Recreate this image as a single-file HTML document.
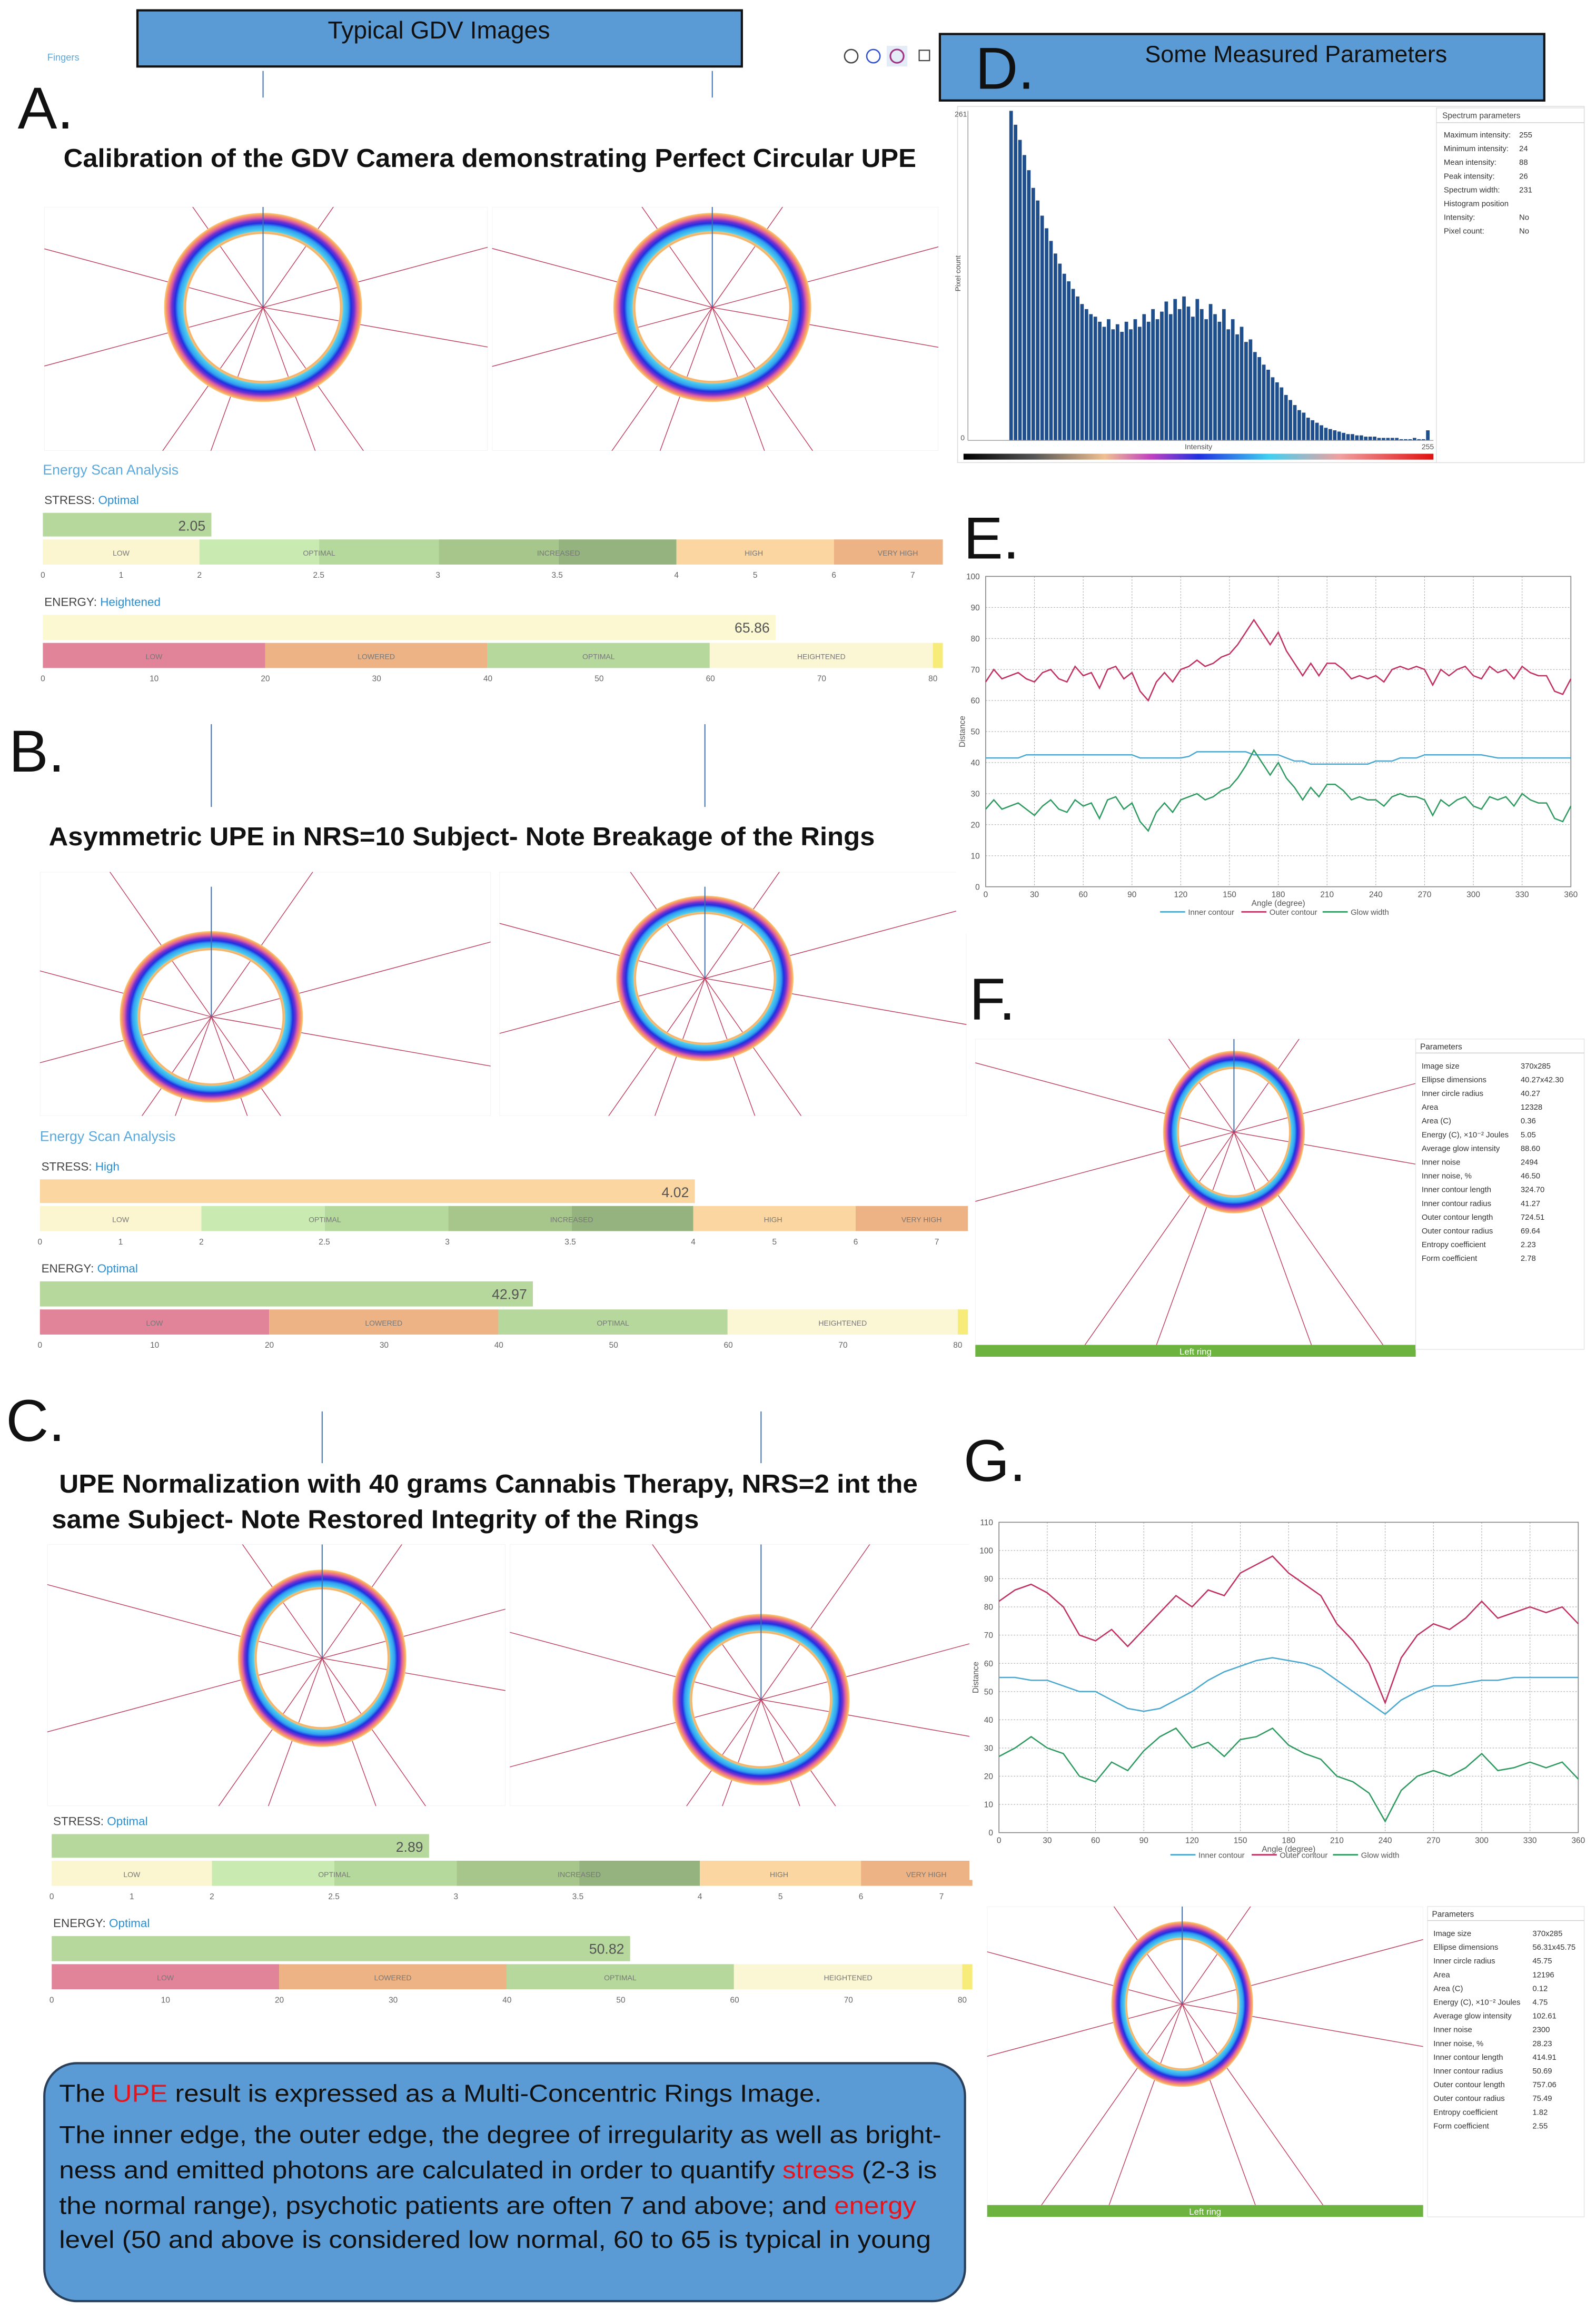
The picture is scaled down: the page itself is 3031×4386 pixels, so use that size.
<!DOCTYPE html>
<html><head><meta charset="utf-8"><style>
html,body{margin:0;padding:0;background:#fff;overflow:hidden;width:3031px;height:4386px;}
svg{display:block;font-family:"Liberation Sans",sans-serif;}
</style></head><body>
<svg id="root" xmlns="http://www.w3.org/2000/svg" width="3031" height="4386" viewBox="0 0 1080 1563" preserveAspectRatio="none">
<defs>
<radialGradient id="ringGrad" cx="0.5" cy="0.5" r="0.5">
<stop offset="0" stop-color="#fff" stop-opacity="0"/>
<stop offset="0.77" stop-color="#fff" stop-opacity="0"/>
<stop offset="0.78" stop-color="#f6b060"/>
<stop offset="0.80" stop-color="#f0c080"/>
<stop offset="0.81" stop-color="#50d0f0"/>
<stop offset="0.86" stop-color="#30a0f0"/>
<stop offset="0.89" stop-color="#2030e0"/>
<stop offset="0.92" stop-color="#7030d0"/>
<stop offset="0.95" stop-color="#e060a0"/>
<stop offset="0.98" stop-color="#f8a060"/>
<stop offset="1" stop-color="#fbd080"/>
</radialGradient>
<linearGradient id="rainbow" x1="0" x2="1">
<stop offset="0" stop-color="#000"/><stop offset="0.15" stop-color="#555"/><stop offset="0.3" stop-color="#f0c090"/><stop offset="0.4" stop-color="#c040c0"/><stop offset="0.5" stop-color="#2030e0"/><stop offset="0.65" stop-color="#40d0f0"/><stop offset="0.8" stop-color="#f0a0a0"/><stop offset="1" stop-color="#e01010"/>
</linearGradient>
</defs>

<rect x="93" y="7" width="409" height="38" fill="#5b9bd5" stroke="#111" stroke-width="1.5"/>
<text x="297" y="26" font-size="16.5" text-anchor="middle" fill="#111">Typical GDV Images</text>
<text x="32" y="41" font-size="6.5" fill="#5aa9dd">Fingers</text>
<g>
<circle cx="576" cy="38" r="4.5" fill="none" stroke="#444" stroke-width="0.9"/>
<circle cx="591" cy="38" r="4.5" fill="none" stroke="#3050d0" stroke-width="0.9"/>
<rect x="600" y="31" width="14" height="14" fill="#e4ecf7"/>
<circle cx="607" cy="38" r="4.5" fill="none" stroke="#a03080" stroke-width="1.1"/>
<rect x="622" y="34" width="7" height="7" fill="none" stroke="#444" stroke-width="0.8"/>
</g>
<rect x="636" y="23" width="409" height="45" fill="#5b9bd5" stroke="#111" stroke-width="1.5"/>
<text x="877" y="42" font-size="16" text-anchor="middle" fill="#111">Some Measured Parameters</text>

<text x="12" y="87" font-size="40" fill="#111">A.</text>
<text x="660" y="60" font-size="40" fill="#111">D.</text>
<text x="652" y="378" font-size="40" fill="#111">E.</text>
<text x="656" y="690" font-size="40" fill="#111">F.</text>
<text x="652" y="1002" font-size="40" fill="#111">G.</text>
<text x="6" y="522" font-size="40" fill="#111">B.</text>
<text x="4" y="975" font-size="40" fill="#111">C.</text>

<text x="43" y="113" font-size="17.5" font-weight="bold" fill="#111" textLength="577" lengthAdjust="spacingAndGlyphs">Calibration of the GDV Camera demonstrating Perfect Circular UPE</text>
<text x="33" y="572" font-size="17.5" font-weight="bold" fill="#111" textLength="559" lengthAdjust="spacingAndGlyphs">Asymmetric UPE in NRS=10 Subject- Note Breakage of the Rings</text>
<text x="40" y="1010" font-size="17.5" font-weight="bold" fill="#111" textLength="581" lengthAdjust="spacingAndGlyphs">UPE Normalization with 40 grams Cannabis Therapy,  NRS=2 int the</text>
<text x="35" y="1034" font-size="17.5" font-weight="bold" fill="#111" textLength="438" lengthAdjust="spacingAndGlyphs">same Subject- Note Restored Integrity of the Rings</text>

<g id="panels"></g>
<g id="scales"></g>
<g id="hist"></g>
<g id="chartE"></g>
<g id="chartG"></g>
<g id="params"></g>

<rect x="30" y="1396" width="623" height="161" rx="22" fill="#5b9bd5" stroke="#2a3f5a" stroke-width="1.5"/>
<g font-size="16.5" fill="#111">
<text x="40" y="1422" textLength="516" lengthAdjust="spacingAndGlyphs">The <tspan fill="#e8131b">UPE</tspan> result is expressed as a Multi-Concentric Rings Image.</text>
<text x="40" y="1450" textLength="597" lengthAdjust="spacingAndGlyphs">The inner edge, the outer edge, the degree of irregularity as well as bright-</text>
<text x="40" y="1474" textLength="594" lengthAdjust="spacingAndGlyphs">ness and emitted photons are calculated in order to quantify <tspan fill="#e8131b">stress</tspan> (2-3 is</text>
<text x="40" y="1498" textLength="580" lengthAdjust="spacingAndGlyphs">the normal range), psychotic patients are often 7 and above; and <tspan fill="#e8131b">energy</tspan></text>
<text x="40" y="1521" textLength="590" lengthAdjust="spacingAndGlyphs">level (50 and above is considered low normal, 60 to 65 is typical in young</text>
</g>
</svg>
<script>
const NS='http://www.w3.org/2000/svg';
function mk(tag,attrs,parent){const e=document.createElementNS(NS,tag);for(const k in attrs)e.setAttribute(k,attrs[k]);if(parent)parent.appendChild(e);return e;}

// ---------- Data ----------
const stressValues=[2.05,4.02,2.89];
const stressStatus=['Optimal','High','Optimal'];
const energyValues=[65.86,42.97,50.82];
const energyStatus=['Heightened','Optimal','Optimal'];
const stressTickLabels=['0','1','2','2.5','3','3.5','4','5','6','7'];
const stressTickValues=[0,1,2,2.5,3,3.5,4,5,6,7];
const energyTickLabels=['0','10','20','30','40','50','60','70','80'];
const energyTickValues=[0,10,20,30,40,50,60,70,80];
const histCounts=[261,250,238,226,214,200,190,178,168,158,148,140,132,126,120,114,108,104,100,98,94,90,96,88,92,86,94,88,96,90,100,94,104,96,102,110,100,112,104,114,106,98,112,104,96,108,100,94,104,88,96,84,90,78,80,70,66,60,56,50,46,42,36,32,28,24,22,18,16,14,12,10,9,8,7,6,5,5,4,4,3,3,3,2,2,2,2,2,1,1,1,2,1,1,8];
const anglesE=[0,5,10,15,20,25,30,35,40,45,50,55,60,65,70,75,80,85,90,95,100,105,110,115,120,125,130,135,140,145,150,155,160,165,170,175,180,185,190,195,200,205,210,215,220,225,230,235,240,245,250,255,260,265,270,275,280,285,290,295,300,305,310,315,320,325,330,335,340,345,350,355,360];
const outerE=[66,70,67,68,69,67,66,69,70,67,66,71,68,69,64,70,71,67,69,63,60,66,69,66,70,71,73,71,72,74,75,78,82,86,82,78,82,76,72,68,72,68,72,72,70,67,68,67,68,66,70,71,70,71,70,65,70,68,70,71,68,67,71,69,70,67,71,69,68,68,63,62,67];
const innerE=[41.5,41.5,41.5,41.5,41.5,42.5,42.5,42.5,42.5,42.5,42.5,42.5,42.5,42.5,42.5,42.5,42.5,42.5,42.5,41.5,41.5,41.5,41.5,41.5,41.5,42,43.5,43.5,43.5,43.5,43.5,43.5,43.5,42.5,42.5,42.5,42.5,41.5,40.5,40.5,39.5,39.5,39.5,39.5,39.5,39.5,39.5,39.5,40.5,40.5,40.5,41.5,41.5,41.5,42.5,42.5,42.5,42.5,42.5,42.5,42.5,42.5,42,41.5,41.5,41.5,41.5,41.5,41.5,41.5,41.5,41.5,41.5];
const glowE=[25,28,25,26,27,25,23,26,28,25,24,28,26,27,22,28,29,25,27,21,18,24,27,24,28,29,30,28,29,31,32,35,39,44,40,36,40,35,32,28,32,29,33,33,31,28,29,28,28,26,29,30,29,29,28,23,28,26,28,29,26,25,29,28,29,26,30,28,27,27,22,21,26];
const anglesG=[0,10,20,30,40,50,60,70,80,90,100,110,120,130,140,150,160,170,180,190,200,210,220,230,240,250,260,270,280,290,300,310,320,330,340,350,360];
const outerG=[82,86,88,85,80,70,68,72,66,72,78,84,80,86,84,92,95,98,92,88,84,74,68,60,46,62,70,74,72,76,82,76,78,80,78,80,74];
const innerG=[55,55,54,54,52,50,50,47,44,43,44,47,50,54,57,59,61,62,61,60,58,54,50,46,42,47,50,52,52,53,54,54,55,55,55,55,55];
const glowG=[27,30,34,30,28,20,18,25,22,29,34,37,30,32,27,33,34,37,31,28,26,20,18,14,4,15,20,22,20,23,28,22,23,25,23,25,19];
const xTicksDeg=[0,30,60,90,120,150,180,210,240,270,300,330,360];
const paramNamesF=['Image size','Ellipse dimensions','Inner circle radius','Area','Area (C)','Energy (C), \u00d710\u207b\u00b2 Joules','Average glow intensity','Inner noise','Inner noise, %','Inner contour length','Inner contour radius','Outer contour length','Outer contour radius','Entropy coefficient','Form coefficient'];
const paramValsF=['370x285','40.27x42.30','40.27','12328','0.36','5.05','88.60','2494','46.50','324.70','41.27','724.51','69.64','2.23','2.78'];
const paramValsG=['370x285','56.31x45.75','45.75','12196','0.12','4.75','102.61','2300','28.23','414.91','50.69','757.06','75.49','1.82','2.55'];
const spectrumNames=['Maximum intensity:','Minimum intensity:','Mean intensity:','Peak intensity:','Spectrum width:','Histogram position','Intensity:','Pixel count:'];
const spectrumVals=['255','24','88','26','231','','No','No'];

// ---------- Ring panels ----------
const panelsG=document.getElementById('panels');
let clipId=0;
function panel(x,y,w,h,cx,cy,rx,ry,name,topLine){
  const g=mk('g',{},panelsG);
  
  
  const id='clip'+(clipId++);
  const cp=mk('clipPath',{id:id},g);mk('rect',{x:x,y:y,width:w,height:h},cp);
  const inner=mk('g',{'clip-path':'url(#'+id+')'},g);
  mk('rect',{x:x,y:y,width:w,height:h,fill:'#fff',stroke:'#eee','stroke-width':0.5},inner);
  const angs=[-125,-55,-15,10,55,125,165,195,70,110];
  angs.forEach(a=>{const r=a*Math.PI/180;const ln=mk('line',{x1:cx,y1:cy,x2:cx+400*Math.cos(r),y2:cy+400*Math.sin(r),stroke:'#c0385a','stroke-width':0.5},inner);
    
    });
  const ring=mk('ellipse',{cx:cx,cy:cy,rx:rx,ry:ry,fill:'url(#ringGrad)'},inner);
  
  
  mk('line',{x1:cx,y1:topLine,x2:cx,y2:cy,stroke:'#3a6fb0','stroke-width':0.7},inner);
}
function fingerLine(x,y1,y2){const l=mk('line',{x1:x,y1:y1,x2:x,y2:y2,stroke:'#3a6fb0','stroke-width':0.7},panelsG);
  
  }
fingerLine(178,48,66);fingerLine(482,48,66);
panel(30,140,300,165,178,208,67,64,'ring-panel-a-left',140);
panel(333,140,302,165,482,208,67,64,'ring-panel-a-right',140);
fingerLine(143,490,546);fingerLine(477,490,546);
panel(27,590,305,165,143,688,62,58,'ring-panel-b-left',600);
panel(338,590,316,165,477,662,60,56,'ring-panel-b-right',600);
fingerLine(218,955,990);fingerLine(515,955,990);
panel(32,1045,310,177,218,1122,57,60,'ring-panel-c-left',1045);
panel(345,1045,313,177,515,1150,60,58,'ring-panel-c-right',1045);
panel(660,703,298,207,835,766,48,55,'ring-panel-f',703);
panel(668,1290,295,202,800,1356,48,56,'ring-panel-g',1290);
[[660,910,298],[668,1492,295]].forEach(b=>{const r=mk('rect',{x:b[0],y:b[1],width:b[2],height:8,fill:'#6cb33f'},panelsG);
  
  
  const t=mk('text',{x:b[0]+b[2]/2,y:b[1]+6.5,'font-size':6,fill:'#fff','text-anchor':'middle'},panelsG);t.textContent='Left ring';
  
  });

// ---------- Stress / Energy scales ----------
const scalesG=document.getElementById('scales');
function stressFrac(v){if(v<=2)return v/2*0.174;if(v<=4)return 0.174+(v-2)*0.265;return 0.704+(v-4)*0.0875;}
function energyFrac(v){return v/80*0.989;}
const stressSegs=[[0,0.174,'#fbf5d0','LOW',0.087],[0.174,0.307,'#c9ebb2','OPTIMAL',0.307],[0.307,0.44,'#b5d99c','',0],[0.44,0.573,'#a6c68c','INCREASED',0.573],[0.573,0.704,'#94b37e','',0],[0.704,0.879,'#fbd6a0','HIGH',0.79],[0.879,1,'#eeb384','VERY HIGH',0.95]];
const energySegs=[[0,0.247,'#e1849a','LOW'],[0.247,0.494,'#edb385','LOWERED'],[0.494,0.741,'#b6d89d','OPTIMAL'],[0.741,0.989,'#fbf6d4','HEIGHTENED'],[0.989,1,'#f7ec7a','']];
function label(x,y,txt,size,fill,anchor,name){const t=mk('text',{x:x,y:y,'font-size':size,fill:fill,'text-anchor':anchor||'start'},scalesG);t.textContent=txt;
  
  return t;}
function block(i,x0,x1,ys,withHeader){
  const W=x1-x0;
  if(withHeader)label(x0,ys-26,'Energy Scan Analysis',9.5,'#5aa9dd','start','energy-scan-heading');
  const st=label(x0+1,ys-6,'STRESS: ',8,'#444','start','stress-label');
  const sp=mk('tspan',{fill:'#2a8fd0'},st);sp.textContent=stressStatus[i];
  const sw=stressFrac(stressValues[i])*W;
  const sb=mk('rect',{x:x0,y:ys,width:sw,height:16,fill:stressValues[i]>=4?'#fbd6a0':'#b6d89d'},scalesG);
  
  
  label(x0+sw-4,ys+12,stressValues[i].toFixed(2),9.5,'#555','end','stress-value');
  const sy=ys+18;
  stressSegs.forEach(s=>{const r=mk('rect',{x:x0+s[0]*W,y:sy,width:(s[1]-s[0])*W,height:17,fill:s[2]},scalesG);
    
    });
  stressSegs.forEach(s=>{if(s[3])label(x0+s[4]*W,sy+11,s[3],5,'#777','middle','stress-zone-label');});
  stressTickValues.forEach((v,k)=>label(x0+stressFrac(v)*W,sy+26,stressTickLabels[k],5.5,'#666','middle','stress-tick'));
  const ey=sy+51;
  const et=label(x0+1,ey-6,'ENERGY: ',8,'#444','start','energy-label');
  const ep=mk('tspan',{fill:'#2a8fd0'},et);ep.textContent=energyStatus[i];
  const ew=energyFrac(energyValues[i])*W;
  const eb=mk('rect',{x:x0,y:ey,width:ew,height:17,fill:energyValues[i]>=60?'#fbf8d2':'#b6d89d'},scalesG);
  
  
  label(x0+ew-4,ey+12,energyValues[i].toFixed(2),9.5,'#555','end','energy-value');
  const esy=ey+19;
  energySegs.forEach(s=>{const r=mk('rect',{x:x0+s[0]*W,y:esy,width:(s[1]-s[0])*W,height:17,fill:s[2]},scalesG);
    
    
    if(s[3])label(x0+(s[0]+s[1])/2*W,esy+11,s[3],5,'#777','middle','energy-zone-label');});
  energyTickValues.forEach((v,k)=>label(x0+energyFrac(v)*W,esy+26,energyTickLabels[k],5.5,'#666','middle','energy-tick'));
}
block(0,29,638,347,true);
block(1,27,655,798,true);
block(2,35,658,1241,false);

// ---------- Histogram ----------
const histG=document.getElementById('hist');
mk('rect',{x:648,y:72,width:424,height:241,fill:'#fff',stroke:'#ddd','stroke-width':0.6},histG);
const hx0=683,hx1=968,hy0=298,hy1=75,hMax=261;
function hy(v){return hy0-(v/hMax)*(hy0-hy1);}
const bw=(hx1-hx0)/histCounts.length;
histCounts.forEach((v,i)=>{const r=mk('rect',{x:hx0+i*bw,y:hy(v),width:bw*0.8,height:hy0-hy(v),fill:'#1f4e8c'},histG);
  
  });
mk('line',{x1:655,y1:hy0,x2:970,y2:hy0,stroke:'#999','stroke-width':0.5},histG);
mk('line',{x1:655,y1:hy1,x2:655,y2:hy0,stroke:'#999','stroke-width':0.5},histG);
[['261',646,79],['0',650,298]].forEach(a=>{const t=mk('text',{x:a[1],y:a[2],'font-size':5,fill:'#555'},histG);t.textContent=a[0];});
const ht=mk('text',{x:811,y:304,'font-size':5,fill:'#555','text-anchor':'middle'},histG);ht.textContent='Intensity';

const h255=mk('text',{x:962,y:304,'font-size':5,fill:'#555'},histG);h255.textContent='255';
const hyt=mk('text',{x:650,y:185,'font-size':5,fill:'#555',transform:'rotate(-90 650 185)','text-anchor':'middle'},histG);hyt.textContent='Pixel count';

const strip=mk('rect',{x:652,y:307,width:318,height:4,fill:'url(#rainbow)'},histG);

mk('rect',{x:972,y:73,width:100,height:240,fill:'#fff',stroke:'#ddd','stroke-width':0.5},histG);
const sph=mk('text',{x:976,y:80,'font-size':5.5,fill:'#444'},histG);sph.textContent='Spectrum parameters';

mk('line',{x1:972,y1:83,x2:1072,y2:83,stroke:'#ccc','stroke-width':0.5},histG);
spectrumNames.forEach((n,i)=>{const t=mk('text',{x:977,y:93+i*9.3,'font-size':5.3,fill:'#333'},histG);t.textContent=n;
  
  const v=mk('text',{x:1028,y:93+i*9.3,'font-size':5.3,fill:'#333'},histG);v.textContent=spectrumVals[i];
  });

// ---------- Line charts ----------
function lineChart(gid,x0,x1,y0,y1,yMax,yStep,angles,series,legendY){
  const g=document.getElementById(gid);
  const X=a=>x0+a/360*(x1-x0), Y=v=>y1-v/yMax*(y1-y0);
  mk('rect',{x:x0-20,y:y0-6,width:x1-x0+28,height:y1-y0+38,fill:'#fff'},g);
  for(let v=0;v<=yMax;v+=yStep){const l=mk('line',{x1:x0,y1:Y(v),x2:x1,y2:Y(v),stroke:'#aaa','stroke-width':0.4,'stroke-dasharray':'1 1'},g);
    
    const t=mk('text',{x:x0-4,y:Y(v)+2,'font-size':5.5,fill:'#555','text-anchor':'end'},g);t.textContent=v;
    }
  xTicksDeg.forEach(a=>{const l=mk('line',{x1:X(a),y1:y0,x2:X(a),y2:y1,stroke:'#aaa','stroke-width':0.4,'stroke-dasharray':'1 1'},g);
    
    const t=mk('text',{x:X(a),y:y1+7,'font-size':5.5,fill:'#555','text-anchor':'middle'},g);t.textContent=a;
    });
  mk('rect',{x:x0,y:y0,width:x1-x0,height:y1-y0,fill:'none',stroke:'#888','stroke-width':0.6},g);
  series.forEach(s=>{const p=mk('polyline',{points:s.vals.map((v,i)=>X(s.ang[i])+','+Y(v)).join(' '),fill:'none',stroke:s.color,'stroke-width':0.9},g);
    });
  const at=mk('text',{x:(x0+x1)/2,y:y1+13,'font-size':5.5,fill:'#555','text-anchor':'middle'},g);at.textContent='Angle (degree)';
  
  const yt=mk('text',{x:x0-14,y:(y0+y1)/2,'font-size':5.5,fill:'#555','text-anchor':'middle',transform:'rotate(-90 '+(x0-14)+' '+(y0+y1)/2+')'},g);yt.textContent='Distance';
  
  const lx=(x0+x1)/2-80;
  [['Inner contour','#4aa8d0'],['Outer contour','#c03060'],['Glow width','#2e9a60']].forEach((l,i)=>{
    const ln=mk('line',{x1:lx+i*55,y1:legendY,x2:lx+i*55+17,y2:legendY,stroke:l[1],'stroke-width':1},g);
    
    const t=mk('text',{x:lx+i*55+19,y:legendY+2,'font-size':5.3,fill:'#555'},g);t.textContent=l[0];
    });
}
lineChart('chartE',667,1063,390,600,100,10,anglesE,[
 {vals:innerE,ang:anglesE,color:'#4aa8d0',name:'inner-contour-line'},
 {vals:outerE,ang:anglesE,color:'#c03060',name:'outer-contour-line'},
 {vals:glowE,ang:anglesE,color:'#2e9a60',name:'glow-width-line'}],617);
lineChart('chartG',676,1068,1030,1240,110,10,anglesG,[
 {vals:innerG,ang:anglesG,color:'#4aa8d0',name:'inner-contour-line'},
 {vals:outerG,ang:anglesG,color:'#c03060',name:'outer-contour-line'},
 {vals:glowG,ang:anglesG,color:'#2e9a60',name:'glow-width-line'}],1255);

// ---------- Parameter tables ----------
const paramsG=document.getElementById('params');
function paramTable(x,y,vals,name){
  const g=mk('g',{},paramsG);
  
  
  mk('rect',{x:x,y:y,width:1072-x,height:210,fill:'#fff',stroke:'#e4e4e4','stroke-width':0.5},g);
  const h=mk('text',{x:x+3,y:y+7,'font-size':5.5,fill:'#333'},g);h.textContent='Parameters';
  
  mk('line',{x1:x,y1:y+9.5,x2:1072,y2:y+9.5,stroke:'#ccc','stroke-width':0.5},g);
  paramNamesF.forEach((n,i)=>{const t=mk('text',{x:x+4,y:y+20+i*9.3,'font-size':5.3,fill:'#333'},g);t.textContent=n;
    
    const v=mk('text',{x:x+71,y:y+20+i*9.3,'font-size':5.3,fill:'#333'},g);v.textContent=vals[i];
    });
}
paramTable(958,703,paramValsF,'params-table-f');
paramTable(966,1290,paramValsG,'params-table-g');
</script>
</body></html>
